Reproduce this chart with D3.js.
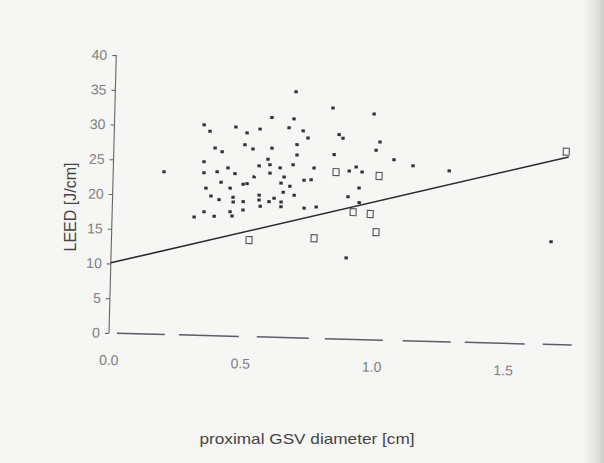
<!DOCTYPE html>
<html>
<head>
<meta charset="utf-8">
<script src="https://cdn.jsdelivr.net/npm/d3@7"></script>
<style>
html,body{margin:0;padding:0;background:#f6f6f4;}
svg{display:block;}
</style>
</head>
<body>
<script>
// ---- data ----
const diameterFilled = [0.687,0.829,0.986,0.598,0.682,0.341,0.364,0.462,0.554,0.505,0.664,0.718,0.737,0.855,0.870,1.011,0.997,0.385,0.412,0.498,0.529,0.601,0.696,0.697,0.838,0.587,0.344,1.066,1.139,1.277,0.763,0.897,0.923,0.946,0.345,0.395,0.436,0.463,0.554,0.595,0.634,0.683,0.596,0.536,0.650,0.193,0.411,0.354,0.446,0.495,0.510,0.639,0.673,0.648,0.690,0.374,0.405,0.458,0.459,0.497,0.557,0.562,0.595,0.641,0.641,0.726,0.753,0.936,0.895,0.775,0.938,0.312,0.349,0.388,0.448,0.456,0.497,0.894,1.671,0.729,0.557,0.614];
const leedFilled = [35.4,33.2,32.5,31.6,31.5,30.3,29.4,30.1,29.9,29.3,30.2,29.8,28.8,29.4,28.9,28.5,27.3,27.0,26.5,27.6,27.0,27.2,27.8,26.3,26.5,25.6,25.0,26.0,25.2,24.6,24.5,24.2,24.8,24.1,23.4,23.6,24.2,23.4,24.6,24.8,24.4,24.9,23.6,23.0,23.1,23.4,22.1,21.2,21.3,21.9,22.0,22.2,21.8,20.9,20.5,20.1,19.6,20.0,19.3,19.4,19.7,18.8,19.5,19.5,18.8,22.7,22.8,21.8,20.5,18.9,19.7,17.0,17.8,17.2,17.9,17.3,18.2,11.7,14.8,18.7,20.4,20.0];
const diameterOpen = [0.847,1.011,0.916,0.981,1.005,0.770,0.523,1.720];
const leedOpen = [24.0,23.6,18.3,18.1,15.5,14.4,13.9,27.8];
const regIntercept = 10.1;
const regSlope = 9.8;
const regRange = [0, 1.73];
const yTicks = [0,5,10,15,20,25,30,35,40];
const xTicks = [0.0,0.5,1.0,1.5];
const xTitle = "proximal GSV diameter [cm]";
const yTitle = "LEED [J/cm]";

// ---- drawing ----
const W = 604, H = 463;
const svg = d3.select("body").append("svg").attr("width", W).attr("height", H);

const defs = svg.append("defs");
const grad = defs.append("linearGradient").attr("id","edge").attr("x1","0").attr("x2","1");
grad.append("stop").attr("offset","0").attr("stop-color","#f6f6f4");
grad.append("stop").attr("offset","0.6").attr("stop-color","#e2e2e0");
grad.append("stop").attr("offset","1").attr("stop-color","#cdcdcb");
svg.append("rect").attr("width",W).attr("height",H).attr("fill","#f6f6f4");
svg.append("rect").attr("x",584).attr("width",20).attr("height",H).attr("fill","url(#edge)");

const x = d3.scaleLinear().domain([0, 1.76]).range([0, 1.76*263]);
const y = d3.scaleLinear().domain([0, 40]).range([0, -278]);

const g = svg.append("g").attr("transform","translate(109,333) rotate(1.5)");

const fontFam = "Liberation Sans, Arial, sans-serif";

// y axis
const yAxis = d3.axisLeft(y).tickValues(yTicks).tickSize(4).tickPadding(5);
const ya = g.append("g").call(yAxis);
ya.select(".domain").attr("stroke","#666").attr("stroke-width",1.1).attr("d", `M0,${y(0)}V${y(40)}`);
ya.selectAll(".tick line").attr("stroke","#666").attr("stroke-width",1.1);
ya.selectAll(".tick text").attr("fill","#808080").style("font-family",fontFam).style("font-size","14px");

// x axis (faded, broken line as in the scan)
const xAxis = d3.axisBottom(x).tickValues(xTicks).tickSize(0).tickPadding(22).tickFormat(d3.format(".1f"));
const xa = g.append("g").call(xAxis);
xa.select(".domain").attr("stroke","#5c5c6c").attr("stroke-width",1.5)
  .attr("stroke-dasharray","48,14,60,18,52,16,58,20")
  .attr("d", `M${x(0.03)},0H${x(1.76)}`);
xa.selectAll(".tick text").attr("fill","#808080").style("font-family",fontFam).style("font-size","14px");

// regression line
g.append("line")
  .attr("x1", x(regRange[0])).attr("y1", y(regIntercept + regSlope*regRange[0]))
  .attr("x2", x(regRange[1])).attr("y2", y(regIntercept + regSlope*regRange[1]))
  .attr("stroke","#2a2a2a").attr("stroke-width",1.6);

// filled points
const filled = diameterFilled.map((d,i)=>({x:d, y:leedFilled[i]}));
g.selectAll("rect.f").data(filled).enter().append("rect").attr("class","f")
  .attr("x", d=>x(d.x)-1.7).attr("y", d=>y(d.y)-1.5)
  .attr("width",3.4).attr("height",3)
  .attr("fill","#333");

// open points
const open = diameterOpen.map((d,i)=>({x:d, y:leedOpen[i]}));
g.selectAll("rect.o").data(open).enter().append("rect").attr("class","o")
  .attr("x", d=>x(d.x)-3).attr("y", d=>y(d.y)-3.5)
  .attr("width",6).attr("height",7)
  .attr("fill","none").attr("stroke","#555").attr("stroke-width",1.1);

// titles
svg.append("text").attr("transform","translate(76,207) rotate(-90)")
  .attr("text-anchor","middle").attr("fill","#444")
  .style("font-family",fontFam).style("font-size","16px")
  .text(yTitle);
svg.append("text").attr("x",307).attr("y",444)
  .attr("text-anchor","middle").attr("fill","#444")
  .attr("textLength",215).attr("lengthAdjust","spacingAndGlyphs")
  .style("font-family",fontFam).style("font-size","15px")
  .text(xTitle);
</script>
</body>
</html>
